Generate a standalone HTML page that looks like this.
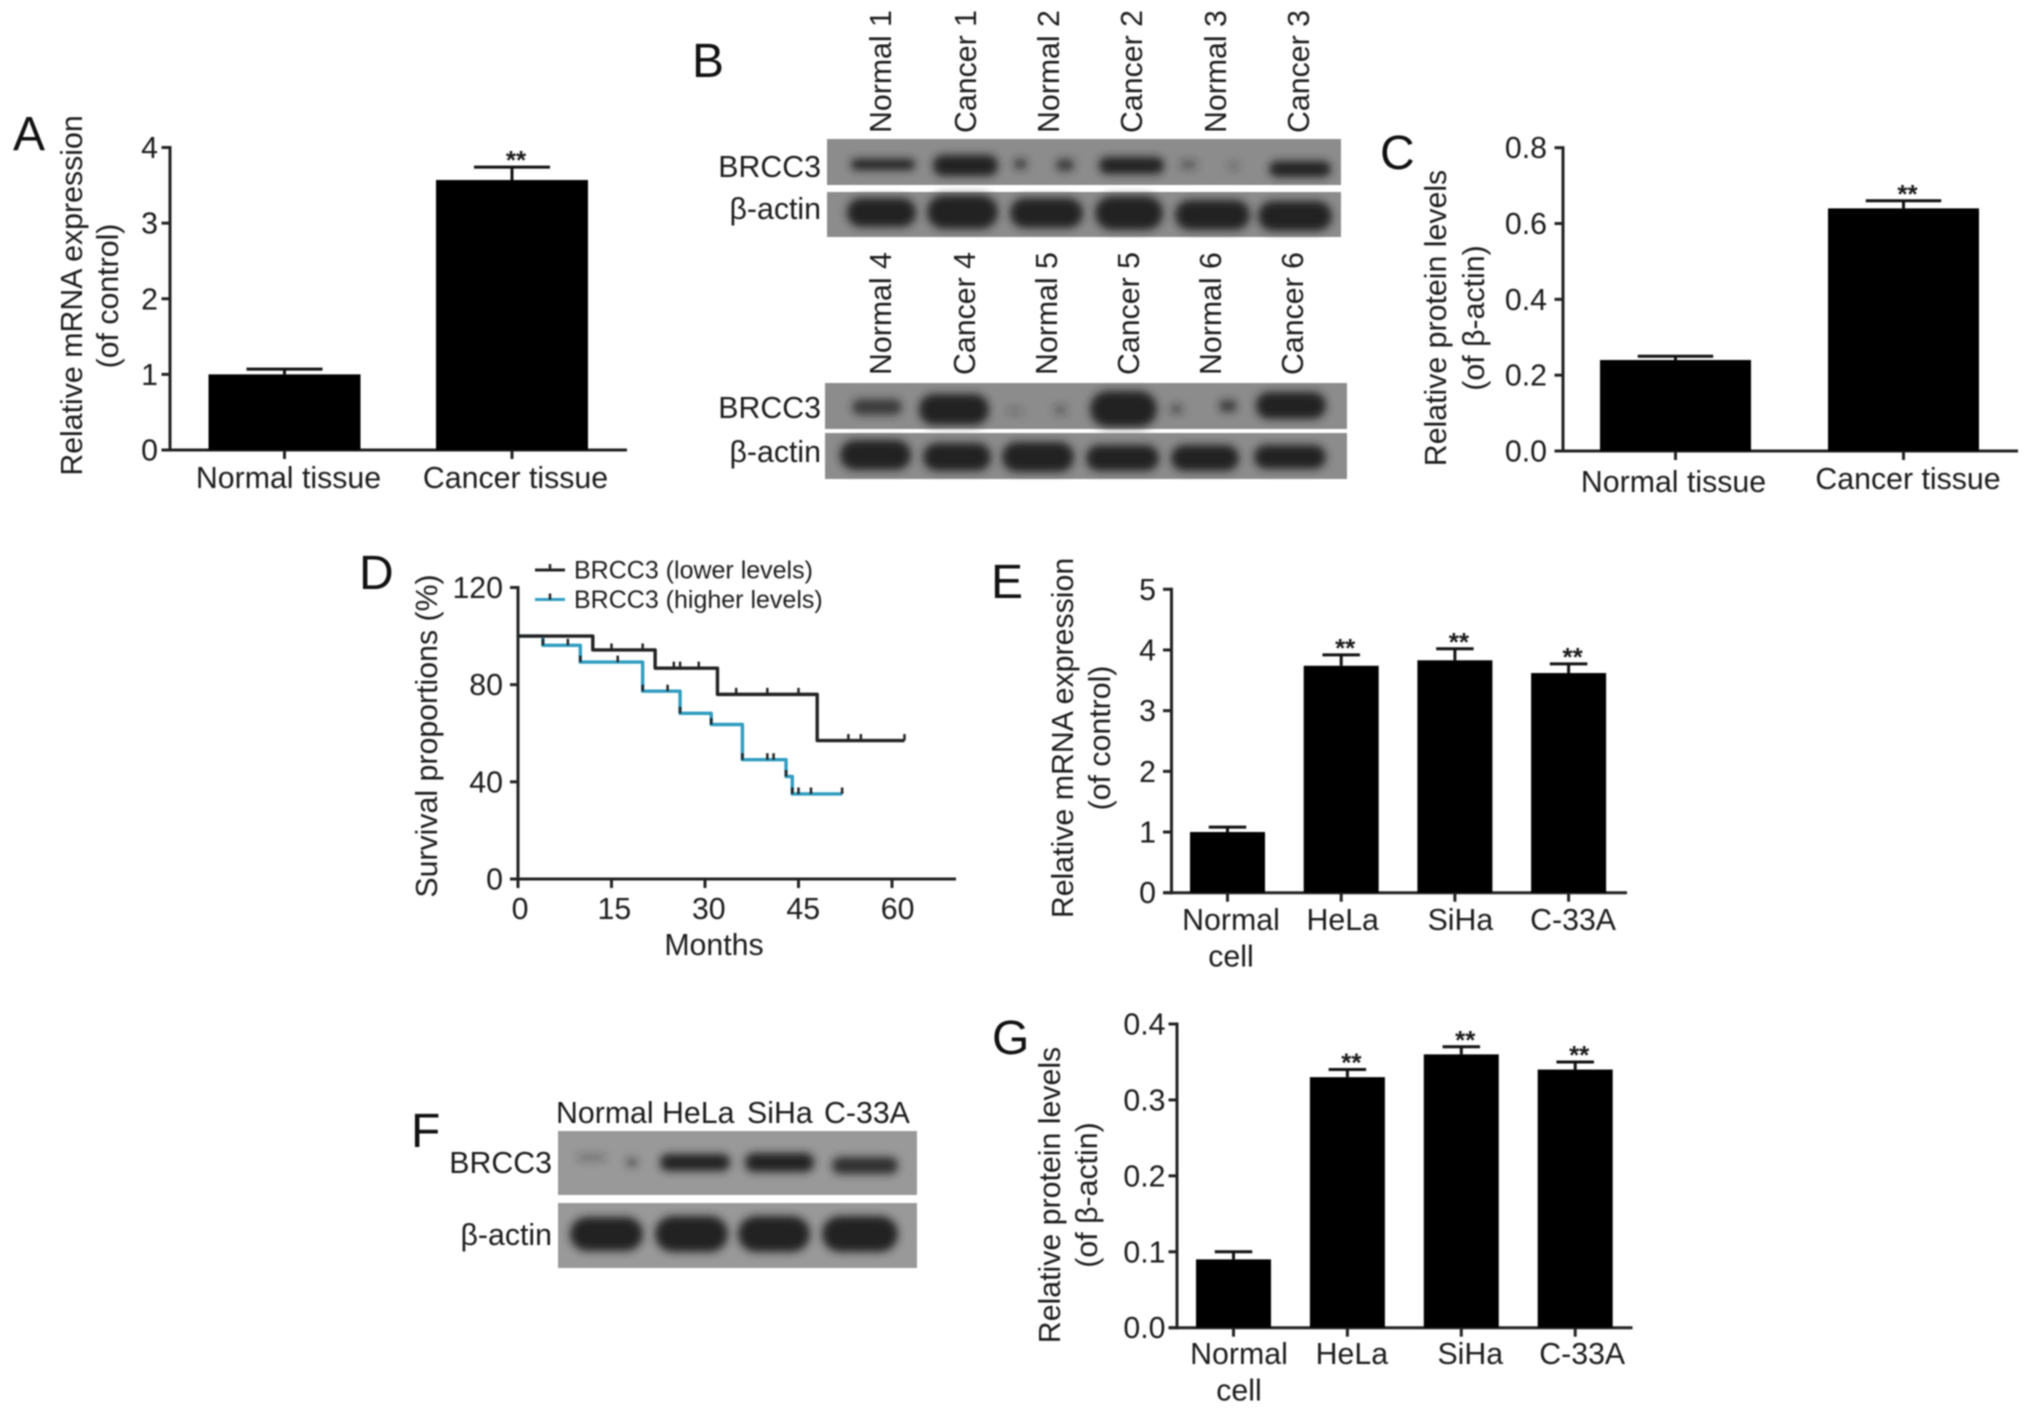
<!DOCTYPE html>
<html lang="en">
<head>
<meta charset="utf-8">
<title>BRCC3 expression figure</title>
<style>
html,body{margin:0;padding:0;background:#fff;width:2032px;height:1414px;overflow:hidden}
svg{display:block;font-family:"Liberation Sans",sans-serif;fill:#1c1c1c}
#soft{filter:blur(0.8px)}
.t{font-size:30.3px}
.p{font-size:48px;fill:#111}
.l{font-size:25px}
.e{text-anchor:end}
.m{text-anchor:middle}
.blot{fill:#8c8c8c}
.band{fill:#242424}
</style>
</head>
<body>
<svg id="figure" xmlns="http://www.w3.org/2000/svg" width="2032" height="1414" viewBox="0 0 2032 1414">
<defs>
<filter id="bb" x="-30%" y="-60%" width="160%" height="220%"><feGaussianBlur stdDeviation="4.2"/></filter>
</defs>
<g id="soft">

<text class="p" x="13" y="150">A</text>
<text class="p" x="692" y="77">B</text>
<text class="p" x="1380" y="169">C</text>
<text class="p" x="359" y="589">D</text>
<text class="p" x="991" y="598">E</text>
<text class="p" x="411" y="1147">F</text>
<text class="p" x="992" y="1054">G</text>

<!-- Panel A titles -->
<text class="t m" transform="translate(82,295.5) rotate(-90)">Relative mRNA expression</text>
<text class="t m" transform="translate(118,296) rotate(-90)">(of control)</text>
<!-- Panel C titles -->
<text class="t m" transform="translate(1446,318) rotate(-90)">Relative protein levels</text>
<text class="t m" transform="translate(1484,318) rotate(-90)">(of β-actin)</text>
<!-- Panel E titles -->
<text class="t m" transform="translate(1073,738) rotate(-90)">Relative mRNA expression</text>
<text class="t m" transform="translate(1110,738) rotate(-90)">(of control)</text>
<!-- Panel G titles -->
<text class="t m" transform="translate(1060,1195) rotate(-90)">Relative protein levels</text>
<text class="t m" transform="translate(1097,1195) rotate(-90)">(of β-actin)</text>
<!-- Panel D titles -->
<text class="t m" transform="translate(437,736) rotate(-90)">Survival proportions (%)</text>
<text class="t m" x="714" y="955">Months</text>

<!-- Panel B -->
<g>
<g class="t">
<text transform="translate(891,133) rotate(-90)">Normal 1</text>
<text transform="translate(976,133) rotate(-90)">Cancer 1</text>
<text transform="translate(1059,133) rotate(-90)">Normal 2</text>
<text transform="translate(1142,133) rotate(-90)">Cancer 2</text>
<text transform="translate(1226,133) rotate(-90)">Normal 3</text>
<text transform="translate(1309,133) rotate(-90)">Cancer 3</text>
</g>
<g class="t">
<text transform="translate(891,375) rotate(-90)">Normal 4</text>
<text transform="translate(975,375) rotate(-90)">Cancer 4</text>
<text transform="translate(1057,375) rotate(-90)">Normal 5</text>
<text transform="translate(1139,375) rotate(-90)">Cancer 5</text>
<text transform="translate(1221,375) rotate(-90)">Normal 6</text>
<text transform="translate(1303,375) rotate(-90)">Cancer 6</text>
</g>
<text class="t e" x="821" y="177">BRCC3</text>
<text class="t e" x="821" y="219">β-actin</text>
<text class="t e" x="821" y="418">BRCC3</text>
<text class="t e" x="821" y="462">β-actin</text>

<rect class="blot" x="827" y="139" width="514" height="46"/>
<g filter="url(#bb)">
<rect class="band" x="851" y="159" width="64" height="11" rx="5"/>
<rect class="band" x="933" y="155" width="65" height="21" rx="10"/>
<rect class="band" x="1014" y="159" width="13" height="10" rx="4" opacity=".75"/>
<rect class="band" x="1056" y="159" width="18" height="12" rx="5" opacity=".8"/>
<rect class="band" x="1099" y="157" width="65" height="17" rx="8"/>
<rect class="band" x="1180" y="160" width="17" height="9" rx="3" opacity=".45"/>
<rect class="band" x="1228" y="162" width="11" height="8" rx="3" opacity=".35"/>
<rect class="band" x="1269" y="161" width="62" height="16" rx="8"/>
</g>
<rect class="blot" x="827" y="192" width="514" height="45"/>
<g filter="url(#bb)">
<rect class="band" x="847" y="198" width="69" height="29" rx="14"/>
<rect class="band" x="927" y="195" width="71" height="34" rx="17"/>
<rect class="band" x="1010" y="198" width="73" height="30" rx="15"/>
<rect class="band" x="1095" y="196" width="68" height="34" rx="17"/>
<rect class="band" x="1175" y="200" width="75" height="30" rx="15"/>
<rect class="band" x="1258" y="201" width="74" height="30" rx="15"/>
</g>
<rect class="blot" x="825" y="383" width="522" height="46"/>
<g filter="url(#bb)">
<rect class="band" x="852" y="399" width="50" height="16" rx="8" opacity=".8"/>
<rect class="band" x="919" y="394" width="70" height="31" rx="15"/>
<rect class="band" x="1007" y="407" width="16" height="8" rx="3" opacity=".25"/>
<rect class="band" x="1054" y="405" width="13" height="10" rx="4" opacity=".4"/>
<rect class="band" x="1090" y="391" width="67" height="36" rx="18"/>
<rect class="band" x="1170" y="404" width="13" height="10" rx="4" opacity=".5"/>
<rect class="band" x="1219" y="400" width="18" height="12" rx="5" opacity=".75"/>
<rect class="band" x="1256" y="392" width="70" height="27" rx="13"/>
</g>
<rect class="blot" x="825" y="433" width="522" height="46"/>
<g filter="url(#bb)">
<rect class="band" x="840" y="440" width="71" height="30" rx="15"/>
<rect class="band" x="923" y="443" width="68" height="28" rx="14"/>
<rect class="band" x="1002" y="442" width="72" height="30" rx="15"/>
<rect class="band" x="1086" y="445" width="73" height="26" rx="13"/>
<rect class="band" x="1171" y="445" width="68" height="26" rx="13"/>
<rect class="band" x="1254" y="445" width="72" height="24" rx="12"/>
</g>
</g>

<!-- Panel F -->
<g>
<text class="t" x="556" y="1123">Normal</text>
<text class="t" x="662" y="1123">HeLa</text>
<text class="t" x="747" y="1123">SiHa</text>
<text class="t" x="824" y="1123">C-33A</text>
<text class="t e" x="552" y="1173">BRCC3</text>
<text class="t e" x="552" y="1245">β-actin</text>
<rect x="558" y="1131" width="359" height="64" fill="#999"/>
<g filter="url(#bb)">
<rect class="band" x="577" y="1154" width="29" height="7" rx="3" opacity=".35"/>
<rect class="band" x="626" y="1158" width="12" height="9" rx="4" opacity=".55"/>
<rect class="band" x="660" y="1154" width="70" height="17" rx="8"/>
<rect class="band" x="745" y="1153" width="69" height="19" rx="9"/>
<rect class="band" x="832" y="1157" width="66" height="17" rx="8" opacity=".9"/>
</g>
<rect x="558" y="1203" width="359" height="65" fill="#999"/>
<g filter="url(#bb)">
<rect class="band" x="570" y="1217" width="73" height="34" rx="17"/>
<rect class="band" x="655" y="1216" width="73" height="36" rx="18"/>
<rect class="band" x="738" y="1216" width="72" height="36" rx="18"/>
<rect class="band" x="822" y="1216" width="76" height="36" rx="18"/>
</g>
</g>

<g id="charts"></g>
</g>
</svg>

<script>
// Panel A
const aCategories = ['Normal tissue', 'Cancer tissue'];
const aValues = [1.0, 3.57];
const aErrors = [1.07, 3.74];
const aStars = ['', '**'];
const aTicks = ['0', '1', '2', '3', '4'];
// Panel C
const cCategories = ['Normal tissue', 'Cancer tissue'];
const cValues = [0.24, 0.64];
const cErrors = [0.25, 0.66];
const cStars = ['', '**'];
const cTicks = ['0.0', '0.2', '0.4', '0.6', '0.8'];
// Panel E
const eCategories = ['Normal cell', 'HeLa', 'SiHa', 'C-33A'];
const eValues = [1.0, 3.74, 3.83, 3.62];
const eErrors = [1.08, 3.92, 4.02, 3.77];
const eStars = ['', '**', '**', '**'];
const eTicks = ['0', '1', '2', '3', '4', '5'];
// Panel G
const gCategories = ['Normal cell', 'HeLa', 'SiHa', 'C-33A'];
const gValues = [0.09, 0.33, 0.36, 0.34];
const gErrors = [0.10, 0.34, 0.37, 0.35];
const gStars = ['', '**', '**', '**'];
const gTicks = ['0.0', '0.1', '0.2', '0.3', '0.4'];
// Panel D
const dYTicks = ['0', '40', '80', '120'];
const dXTicks = ['0', '15', '30', '45', '60'];
const lowerMonths = [0, 12, 22, 32, 48, 62];
const lowerSurvival = [100, 94.3, 86.8, 76, 57, 57];
const lowerCensored = [15, 20, 25, 26, 29, 35, 40, 45, 53, 55, 62];
const higherMonths = [0, 4, 10, 20, 26, 31, 36, 43, 44, 52];
const higherSurvival = [100, 96.2, 89.3, 77.3, 68.2, 63.6, 49.1, 42.2, 35, 35];
const higherCensored = [4, 8, 10, 16, 20, 24, 26, 31, 36, 40, 41, 43, 44, 45, 47, 52];
const legendLabels = ['BRCC3 (lower levels)', 'BRCC3 (higher levels)'];

const NS = 'http://www.w3.org/2000/svg';
const root = document.getElementById('charts');
const INK = '#222';

function make(parent, tag, attrs, name) {
  const el = document.createElementNS(NS, tag);
  for (const k in attrs) el.setAttribute(k, attrs[k]);
  
  
  parent.appendChild(el);
  return el;
}
function line(parent, x1, y1, x2, y2, w, name, color) {
  return make(parent, 'line', {x1, y1, x2, y2, stroke: color || INK, 'stroke-width': w}, name);
}
function label(parent, x, y, str, cls, name) {
  const el = make(parent, 'text', {x, y, class: cls}, name);
  el.textContent = str;
  return el;
}

function drawBars(id, categories, values, errors, stars, ticks, o) {
  const g = make(root, 'g', {}, id + '-bar-chart');
  const maxV = parseFloat(ticks[ticks.length - 1]);
  const yScale = v => o.y0 - (v / maxV) * (o.y0 - o.yTop);
  const xScale = i => o.first + i * o.step;
  line(g, o.axisX, o.yTop - 1.5, o.axisX, o.y0 + 1.5, 3, id + '-y-axis');
  line(g, o.xLeft, o.y0, o.xRight, o.y0, 3, id + '-x-axis');
  ticks.forEach(t => {
    const y = yScale(parseFloat(t));
    line(g, o.axisX - 8.5, y, o.axisX, y, 3, id + '-y-tick');
    label(g, o.labelRight, y + 10.5, t, 't e', id + '-y-tick-label');
  });
  categories.forEach((c, i) => {
    const x = xScale(i);
    const yv = yScale(values[i]);
    const ye = yScale(errors[i]);
    make(g, 'rect', {x: x - o.barW / 2, y: yv, width: o.barW, height: o.y0 - yv, fill: '#000'}, id + '-bar-' + i);
    line(g, x, yv, x, ye, 3, id + '-error-stem-' + i, '#111');
    line(g, x - o.barW / 4, ye, x + o.barW / 4, ye, 3, id + '-error-cap-' + i, '#111');
    line(g, x, o.y0, x, o.y0 + 9, 3, id + '-x-tick-' + i);
    const parts = o.wrap ? c.split(' ') : [c];
    parts.forEach((p, k) => {
      const lineGap = 36.5;
      label(g, x + o.labelDx[i], o.labelY + o.labelDy[i] + k * lineGap, p, 't m', id + '-x-tick-label');
    });
    if (stars[i]) {
      const s = label(g, x + 4, ye + 2, stars[i], 'm', id + '-significance-' + i);
      s.setAttribute('font-size', '26');
      s.setAttribute('font-weight', 'bold');
    }
  });
}

drawBars('a', aCategories, aValues, aErrors, aStars, aTicks, {
  axisX: 170, xLeft: 162, xRight: 627, y0: 450, yTop: 147.5, first: 284.5, step: 227.5, barW: 152,
  labelRight: 158, labelY: 488, labelDx: [4, 3.5], labelDy: [0, 0]
});
drawBars('c', cCategories, cValues, cErrors, cStars, cTicks, {
  axisX: 1563, xLeft: 1555, xRight: 2018, y0: 451, yTop: 147.7, first: 1675.5, step: 228, barW: 151,
  labelRight: 1547, labelY: 492, labelDx: [-2, 4.5], labelDy: [0, -3]
});
drawBars('e', eCategories, eValues, eErrors, eStars, eTicks, {
  axisX: 1171.5, xLeft: 1163, xRight: 1627, y0: 892.7, yTop: 589.3, first: 1227.5, step: 113.7, barW: 75,
  labelRight: 1156, labelY: 930, labelDx: [3.5, 1.5, 5.5, 4.5], labelDy: [0, 0, 0, 0], wrap: true
});
drawBars('g', gCategories, gValues, gErrors, gStars, gTicks, {
  axisX: 1177, xLeft: 1168.5, xRight: 1632.5, y0: 1327.7, yTop: 1024, first: 1233.5, step: 113.9, barW: 75,
  labelRight: 1165.5, labelY: 1364, labelDx: [5.5, 4.5, 9, 7], labelDy: [0, 0, 0, 0], wrap: true
});

// Kaplan-Meier panel
const dG = make(root, 'g', {}, 'd-survival-chart');
const dX = m => 518 + (m / 60) * 374;
const dY = p => 879 - (p / 120) * 291.5;
line(dG, 518, dY(120) - 1.5, 518, dY(0) + 1.5, 3, 'd-y-axis');
line(dG, 510, dY(0), 956, dY(0), 3, 'd-x-axis');
dYTicks.forEach(t => {
  const y = dY(Number(t));
  line(dG, 510, y, 518, y, 3, 'd-y-tick');
  label(dG, 503, y + 10.5, t, 't e', 'd-y-tick-label');
});
dXTicks.forEach(t => {
  const x = dX(Number(t));
  line(dG, x, dY(0), x, dY(0) + 9, 3, 'd-x-tick');
  label(dG, x + 2 + Number(t) * 0.06, 919, t, 't m', 'd-x-tick-label');
});
function stepAt(months, survival, m) {
  let s = survival[0];
  months.forEach((t, i) => { if (t <= m) s = survival[i]; });
  return s;
}
function drawCurve(months, survival, censored, color, name) {
  let d = 'M' + dX(months[0]) + ' ' + dY(survival[0]);
  for (let i = 1; i < months.length; i++) {
    d += 'H' + dX(months[i]) + 'V' + dY(survival[i]);
  }
  make(dG, 'path', {d, fill: 'none', stroke: color, 'stroke-width': 3.4, 'stroke-linejoin': 'round'}, name + '-curve');
  censored.forEach(m => {
    const x = dX(m);
    const y = dY(stepAt(months, survival, m));
    line(dG, x, y, x, y - 6.5, 2.5, name + '-censor-mark', '#222');
  });
}
drawCurve(higherMonths, higherSurvival, higherCensored, '#2f9cc0', 'higher-levels');
drawCurve(lowerMonths, lowerSurvival, lowerCensored, '#222', 'lower-levels');

const legendColors = ['#222', '#2f9cc0'];
legendLabels.forEach((t, i) => {
  const y = 570 + i * 29.5;
  line(dG, 535, y, 565, y, 3, 'legend-line-' + i, legendColors[i]);
  line(dG, 550, y, 550, y - 6, 2.5, 'legend-censor-' + i, '#222');
  label(dG, 574, y + 8.5, t, 'l', 'legend-entry-' + i);
});
</script>
</body>
</html>
